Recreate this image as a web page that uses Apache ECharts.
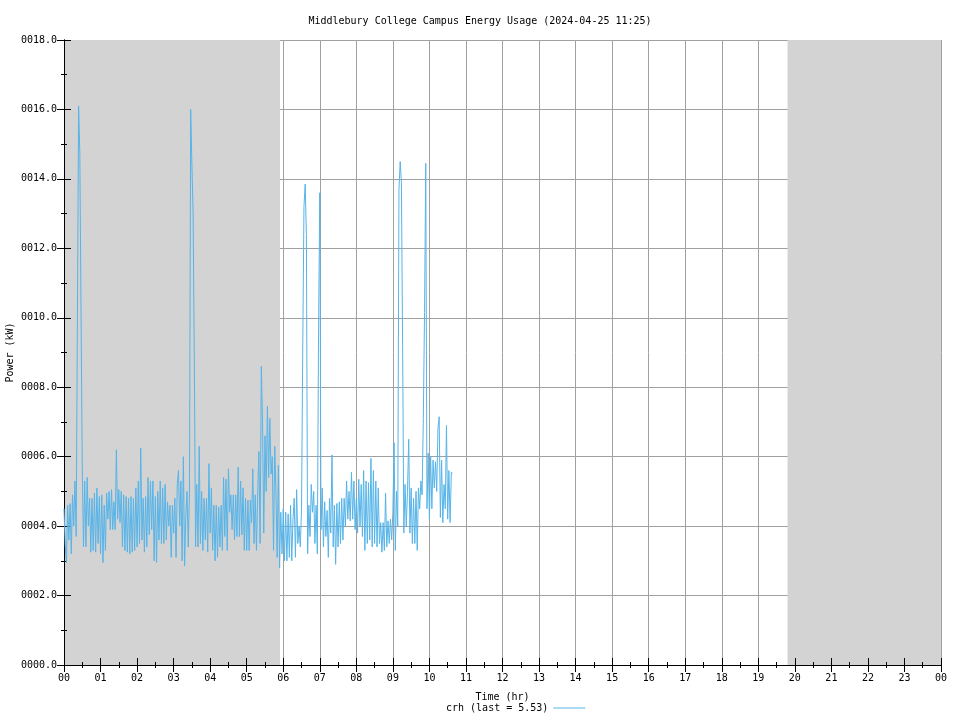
<!DOCTYPE html>
<html>
<head>
<meta charset="utf-8">
<script src="https://cdn.jsdelivr.net/npm/echarts@6/dist/echarts.min.js"></script>
<style>html,body{margin:0;padding:0;background:#fff}#c{width:960px;height:720px}</style>
</head>
<body>
<div id="c"></div>
<script>
// ---- data ----
var titleText = 'Middlebury College Campus Energy Usage (2024-04-25 11:25)';
var seriesName = 'crh (last = 5.53)';
var stepMinutes = 2; // sample spacing, starting at 00:00
var power = [
  // 00h
  4.5,3.45,2.95,4.6,3.6,4.65,3.2,4.9,4.0,5.3,3.7,9.9,16.1,14.7,10.1,5.7,3.4,5.3,3.4,5.4,4.0,4.8,3.25,4.8,3.3,4.95,3.25,5.1,3.5,4.85,
  // 01h
  3.2,4.9,2.95,4.6,3.3,4.95,4.2,5.0,3.9,5.05,3.9,4.7,3.9,6.2,4.2,5.05,4.1,5.0,3.4,4.9,3.3,4.85,3.25,4.8,3.2,4.85,3.25,4.8,3.3,5.1,
  // 02h
  3.4,5.3,3.5,6.25,3.6,4.8,3.25,4.85,3.4,5.4,3.75,5.3,3.9,5.3,3.0,4.85,2.95,5.0,3.6,5.3,3.5,5.1,3.5,5.2,3.6,4.7,4.0,4.6,3.1,4.6,
  // 03h
  3.8,4.8,3.1,5.2,5.6,4.0,5.3,3.0,6.0,2.85,4.3,5.0,3.4,4.95,16.0,14.4,13.0,8.7,3.4,5.2,3.4,6.3,3.5,5.0,3.3,4.8,3.6,4.8,3.25,5.8,
  // 04h
  3.8,5.1,3.3,4.6,3.0,4.6,3.1,4.55,3.4,4.6,3.3,5.4,3.7,5.35,3.3,5.65,4.4,4.9,3.9,4.9,3.6,4.9,3.7,5.7,3.7,5.3,3.75,5.1,3.3,4.8,
  // 05h
  3.3,4.75,3.3,4.75,4.1,5.65,3.5,4.9,3.3,4.9,6.15,3.5,8.6,7.0,3.8,6.6,5.0,7.45,5.4,7.1,5.5,6.0,3.3,6.3,5.0,3.1,5.75,2.8,4.4,3.2,
  // 06h
  4.5,3.0,4.4,3.0,4.35,3.1,4.6,3.0,4.2,4.8,3.1,5.05,3.5,4.0,3.4,4.5,9.1,13.2,13.85,12.4,3.2,4.6,3.7,5.2,4.4,5.0,3.5,4.6,3.2,9.7,
  // 07h
  13.6,3.9,5.1,3.4,4.7,3.7,4.45,3.1,4.8,3.8,6.05,3.4,4.6,2.9,4.65,3.4,4.7,3.5,4.8,3.6,4.8,4.0,5.3,4.2,5.0,4.15,5.55,4.2,5.3,3.9,
  // 08h
  4.8,3.8,5.35,4.0,5.2,3.7,5.6,3.3,5.3,3.5,5.25,3.6,5.95,3.4,5.6,3.5,5.3,3.4,5.1,3.5,4.1,3.25,4.1,3.3,4.95,3.4,4.15,3.5,4.2,3.6,
  // 09h
  4.4,6.4,3.3,5.0,4.0,13.7,14.5,13.9,9.2,3.8,5.2,4.0,5.0,6.5,3.8,5.1,3.5,4.8,3.5,5.0,3.3,5.1,4.5,5.3,4.9,7.1,10.15,14.45,4.5,6.1,
  // 10h
  4.2,6.0,4.5,5.9,5.1,5.85,5.0,6.8,7.15,4.25,5.9,4.1,5.2,4.5,6.9,4.2,5.6,4.1,5.55,5.53
];
var shadedRanges = [[0, 5.91], [19.8, 24]]; // night hours (shaded)
var xTickLabels = ['00','01','02','03','04','05','06','07','08','09','10','11','12','13','14','15','16','17','18','19','20','21','22','23','00'];
var yTickLabels = ['0000.0','0002.0','0004.0','0006.0','0008.0','0010.0','0012.0','0014.0','0016.0','0018.0'];

// ---- chart ----
var mono = 'DejaVu Sans Mono';
var seriesData = power.map(function (v, i) { return [i * stepMinutes / 60, v]; });

function baseX(extra) {
  return Object.assign({
    type: 'value', min: 0, max: 24, interval: 1, z: 1,
    axisLine: { show: true, lineStyle: { color: '#000', width: 1 } },
    axisTick: { show: true, inside: true, length: 7, lineStyle: { color: '#000' } },
    minorTick: { show: true, splitNumber: 2, length: 3, lineStyle: { color: '#000' } },
    splitLine: { show: false }
  }, extra);
}
function baseY(extra) {
  return Object.assign({
    type: 'value', min: 0, max: 18, interval: 2, z: 1,
    axisLine: { show: true, lineStyle: { color: '#000', width: 1 } },
    axisTick: { show: true, inside: true, length: 7, lineStyle: { color: '#000' } },
    minorTick: { show: true, splitNumber: 2, length: 3, lineStyle: { color: '#000' } },
    splitLine: { show: false }
  }, extra);
}

var chart = echarts.init(document.getElementById('c'), null, { renderer: 'canvas' });
chart.setOption({
  animation: false,
  backgroundColor: '#fff',
  title: {
    text: titleText, left: 'center', top: 11,
    textStyle: { fontFamily: mono, fontSize: 10, fontWeight: 'normal', color: '#000' }
  },
  legend: {
    left: 441, top: 698, align: 'right', icon: 'rect', itemWidth: 32, itemHeight: 1,
    data: [seriesName],
    textStyle: { fontFamily: mono, fontSize: 10, color: '#000' }
  },
  grid: { left: 64, right: 19, top: 40, bottom: 55, containLabel: false, outerBoundsMode: 'none' },
  xAxis: [
    baseX({
      position: 'bottom', name: 'Time (hr)', nameLocation: 'middle', nameGap: 27, nameMoveOverlap: false,
      nameTextStyle: { fontFamily: mono, fontSize: 10, color: '#000' },
      axisLabel: { show: true, margin: 8, fontFamily: mono, fontSize: 10, color: '#000',
        formatter: function (v) { return xTickLabels[Math.round(v)]; } },
      splitLine: { show: true, lineStyle: { color: '#a0a0a0', width: 1 } }
    }),
    baseX({ position: 'top', axisLabel: { show: false } })
  ],
  yAxis: [
    baseY({
      position: 'left', name: 'Power (kW)', nameLocation: 'middle', nameGap: 49, nameRotate: 90, nameMoveOverlap: false,
      nameTextStyle: { fontFamily: mono, fontSize: 10, color: '#000' },
      axisLabel: { show: true, margin: 7, fontFamily: mono, fontSize: 10, color: '#000',
        formatter: function (v) { return yTickLabels[Math.round(v / 2)]; } },
      splitLine: { show: true, lineStyle: { color: '#a0a0a0', width: 1 } }
    }),
    baseY({ position: 'right', axisLabel: { show: false } })
  ],
  series: [
    {
      name: 'shade', type: 'line', data: [], z: 0, silent: true, xAxisIndex: 0, yAxisIndex: 0,
      markArea: {
        silent: true,
        itemStyle: { color: '#d3d3d3' },
        data: shadedRanges.map(function (r) { return [{ xAxis: r[0] }, { xAxis: r[1] }]; })
      }
    },
    {
      name: seriesName, type: 'line', data: seriesData, z: 3, xAxisIndex: 0, yAxisIndex: 0,
      showSymbol: false, symbol: 'none', sampling: null,
      lineStyle: { color: '#56b4e9', width: 1 },
      itemStyle: { color: '#56b4e9' }
    }
  ]
});
</script>
</body>
</html>
